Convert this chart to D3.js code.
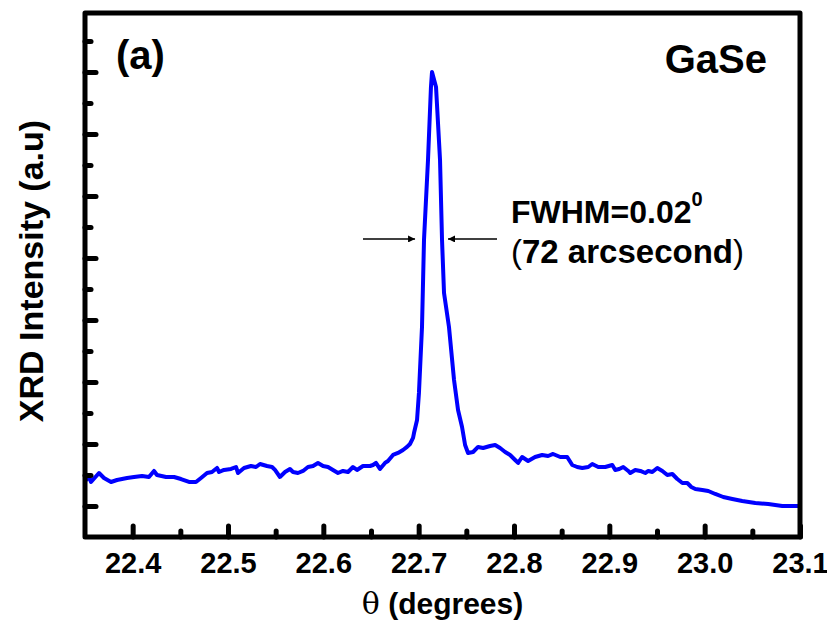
<!DOCTYPE html>
<html>
<head>
<meta charset="utf-8">
<script src="https://cdn.jsdelivr.net/npm/d3@7"></script>
<style>
  html, body { margin: 0; padding: 0; background: #fff; }
  svg { display: block; font-family: "Liberation Sans", Arial, sans-serif; }
</style>
</head>
<body>
<svg id="chart" width="827" height="628"></svg>
<script>
// XRD rocking scan of GaSe: theta (degrees) and intensity (a.u.)
const theta = [
  22.3510, 22.3542, 22.3563, 22.3647, 22.3699, 22.3773, 22.3836, 22.3941, 22.4014, 22.4098,
  22.4171, 22.4224, 22.4255, 22.4350, 22.4434, 22.4507, 22.4591, 22.4664, 22.4717, 22.4780,
  22.4832, 22.4885, 22.4906, 22.4958, 22.5032, 22.5084, 22.5105, 22.5168, 22.5241, 22.5294,
  22.5336, 22.5409, 22.5462, 22.5493, 22.5545, 22.5598, 22.5650, 22.5682, 22.5734, 22.5787,
  22.5839, 22.5892, 22.5944, 22.5997, 22.6049, 22.6101, 22.6154, 22.6206, 22.6259, 22.6311,
  22.6353, 22.6416, 22.6490, 22.6521, 22.6552, 22.6594, 22.6647, 22.6678, 22.6731, 22.6783,
  22.6836, 22.6878, 22.6909, 22.6941, 22.6951, 22.6983, 22.7003, 22.7035, 22.7056, 22.7098,
  22.7129, 22.7140, 22.7182, 22.7224, 22.7245, 22.7266, 22.7318, 22.7371, 22.7413, 22.7455,
  22.7487, 22.7518, 22.7571, 22.7623, 22.7676, 22.7749, 22.7802, 22.7854, 22.7907, 22.7959,
  22.8012, 22.8043, 22.8085, 22.8148, 22.8221, 22.8295, 22.8358, 22.8410, 22.8485, 22.8516,
  22.8558, 22.8611, 22.8663, 22.8716, 22.8779, 22.8821, 22.8884, 22.8957, 22.9031, 22.9062,
  22.9104, 22.9146, 22.9199, 22.9220, 22.9272, 22.9325, 22.9377, 22.9409, 22.9451, 22.9503,
  22.9556, 22.9608, 22.9661, 22.9713, 22.9766, 22.9818, 22.9860, 22.9902, 22.9975, 23.0038,
  23.0111, 23.0195, 23.0290, 23.0394, 23.0531, 23.0667, 23.0814, 23.1000
];
const intensity = [
  1.419, 1.468, 1.387, 1.532, 1.452, 1.387, 1.419, 1.452, 1.468, 1.484,
  1.468, 1.565, 1.500, 1.468, 1.468, 1.435, 1.387, 1.387, 1.452, 1.532,
  1.548, 1.613, 1.548, 1.581, 1.597, 1.629, 1.532, 1.613, 1.645, 1.629,
  1.677, 1.645, 1.629, 1.581, 1.468, 1.548, 1.597, 1.548, 1.532, 1.565,
  1.629, 1.645, 1.694, 1.645, 1.629, 1.581, 1.532, 1.565, 1.548, 1.629,
  1.581, 1.645, 1.645, 1.661, 1.694, 1.597, 1.694, 1.726, 1.823, 1.855,
  1.903, 1.952, 2.000, 2.097, 2.177, 2.387, 2.823, 3.887, 5.290, 6.581,
  7.758, 8.000, 7.758, 6.581, 5.290, 4.435, 3.887, 3.032, 2.548, 2.274,
  1.984, 1.855, 1.871, 1.952, 1.935, 1.968, 1.984, 1.935, 1.871, 1.823,
  1.742, 1.694, 1.790, 1.726, 1.790, 1.823, 1.806, 1.839, 1.790, 1.790,
  1.790, 1.661, 1.629, 1.613, 1.629, 1.677, 1.629, 1.629, 1.661, 1.581,
  1.597, 1.629, 1.565, 1.532, 1.581, 1.565, 1.532, 1.565, 1.548, 1.613,
  1.565, 1.500, 1.516, 1.435, 1.371, 1.371, 1.306, 1.274, 1.258, 1.242,
  1.194, 1.145, 1.113, 1.081, 1.048, 1.032, 1.000, 1.000, 0.984
];

// axis ticks
const xMajorTicks = [22.4, 22.5, 22.6, 22.7, 22.8, 22.9, 23.0, 23.1];
const xMinorTicks = [22.45, 22.55, 22.65, 22.75, 22.85, 22.95, 23.05];
const yMajorTicks = [1, 2, 3, 4, 5, 6, 7, 8];
const yMinorTicks = [1.5, 2.5, 3.5, 4.5, 5.5, 6.5, 7.5, 8.5];

// FWHM marker: arrow tails and tips (theta) at the half-maximum level
const fwhmLevel = 5.306;
const fwhmLeftArrow = [22.6416, 22.6962];
const fwhmRightArrow = [22.7822, 22.7308];

const xDomain = [22.35, 23.1];
const yDomain = [0.5, 8.95];

const svg = d3.select("#chart");
const m = { left: 85, right: 800, top: 13, bottom: 537 };

const x = d3.scaleLinear().domain(xDomain).range([m.left, m.right]);
const y = d3.scaleLinear().domain(yDomain).range([m.bottom, m.top]);

// arrow head marker
svg.append("defs").append("marker")
  .attr("id", "head")
  .attr("viewBox", "0 0 10 10")
  .attr("refX", 10).attr("refY", 5)
  .attr("markerWidth", 12).attr("markerHeight", 7)
  .attr("markerUnits", "userSpaceOnUse")
  .attr("orient", "auto")
  .append("path").attr("d", "M0,0 L10,5 L0,10 Z").attr("fill", "#000");

// data line
const line = d3.line().x((d, i) => x(theta[i])).y(d => y(d));
svg.append("path")
  .datum(intensity)
  .attr("d", line)
  .attr("fill", "none")
  .attr("stroke", "#0000ff")
  .attr("stroke-width", 4)
  .attr("stroke-linejoin", "round")
  .attr("stroke-linecap", "round");

// bottom axis (ticks point inward)
const xAxis = svg.append("g").attr("transform", `translate(0,${m.bottom})`)
  .call(d3.axisBottom(x).tickValues(xMajorTicks).tickSize(-11).tickPadding(15)
    .tickFormat(d3.format(".1f")));
xAxis.select(".domain").remove();
xAxis.selectAll(".tick line").attr("stroke", "#000").attr("stroke-width", 5).attr("stroke-linecap", "round");
xAxis.selectAll(".tick text")
  .attr("font-size", 29).attr("font-weight", "bold").attr("fill", "#000")
  .attr("font-family", "Liberation Sans, Arial, sans-serif");
svg.append("g").attr("transform", `translate(0,${m.bottom})`)
  .call(d3.axisBottom(x).tickValues(xMinorTicks).tickSize(-6).tickFormat(""))
  .call(g => g.select(".domain").remove())
  .selectAll(".tick line").attr("stroke", "#000").attr("stroke-width", 5).attr("stroke-linecap", "round");

// left axis (ticks only, no labels)
svg.append("g").attr("transform", `translate(${m.left},0)`)
  .call(d3.axisLeft(y).tickValues(yMajorTicks).tickSize(-11).tickFormat(""))
  .call(g => g.select(".domain").remove())
  .selectAll(".tick line").attr("stroke", "#000").attr("stroke-width", 5).attr("stroke-linecap", "round");
svg.append("g").attr("transform", `translate(${m.left},0)`)
  .call(d3.axisLeft(y).tickValues(yMinorTicks).tickSize(-6).tickFormat(""))
  .call(g => g.select(".domain").remove())
  .selectAll(".tick line").attr("stroke", "#000").attr("stroke-width", 5).attr("stroke-linecap", "round");

// frame
svg.append("rect")
  .attr("x", m.left).attr("y", m.top)
  .attr("width", m.right - m.left).attr("height", m.bottom - m.top)
  .attr("fill", "none").attr("stroke", "#000").attr("stroke-width", 5)
  .attr("stroke-linejoin", "round");

// axis titles
svg.append("text")
  .attr("x", (m.left + m.right) / 2).attr("y", 614)
  .attr("text-anchor", "middle").attr("font-size", 30).attr("font-weight", "bold")
  .call(t => {
    t.append("tspan").attr("font-weight", "normal").attr("font-family", "DejaVu Serif, serif").text("θ");
    t.append("tspan").text(" (degrees)");
  });

svg.append("text")
  .attr("transform", `translate(43,${(m.top + m.bottom) / 2 - 4}) rotate(-90)`)
  .attr("text-anchor", "middle").attr("font-size", 34).attr("font-weight", "bold")
  .text("XRD Intensity (a.u)");

// panel label and sample name
svg.append("text").attr("x", 116).attr("y", 69)
  .attr("font-size", 40).attr("font-weight", "bold").text("(a)");
svg.append("text").attr("x", 767).attr("y", 73).attr("text-anchor", "end")
  .attr("font-size", 40).attr("font-weight", "bold").text("GaSe");

// FWHM annotation
[fwhmLeftArrow, fwhmRightArrow].forEach(a => {
  svg.append("line")
    .attr("x1", x(a[0])).attr("y1", y(fwhmLevel))
    .attr("x2", x(a[1])).attr("y2", y(fwhmLevel))
    .attr("stroke", "#000").attr("stroke-width", 1.5)
    .attr("marker-end", "url(#head)");
});

const fw = svg.append("text").attr("x", 511).attr("y", 223)
  .attr("font-size", 32).attr("font-weight", "bold");
fw.append("tspan").text("FWHM=0.02");
fw.append("tspan").attr("font-size", 20).attr("dy", -17).text("0");

const arc = svg.append("text").attr("x", 511).attr("y", 263)
  .attr("font-size", 33).attr("font-weight", "bold");
arc.append("tspan").attr("font-weight", "normal").text("(");
arc.append("tspan").text("72 arcsecond");
arc.append("tspan").attr("font-weight", "normal").text(")");
</script>
</body>
</html>
